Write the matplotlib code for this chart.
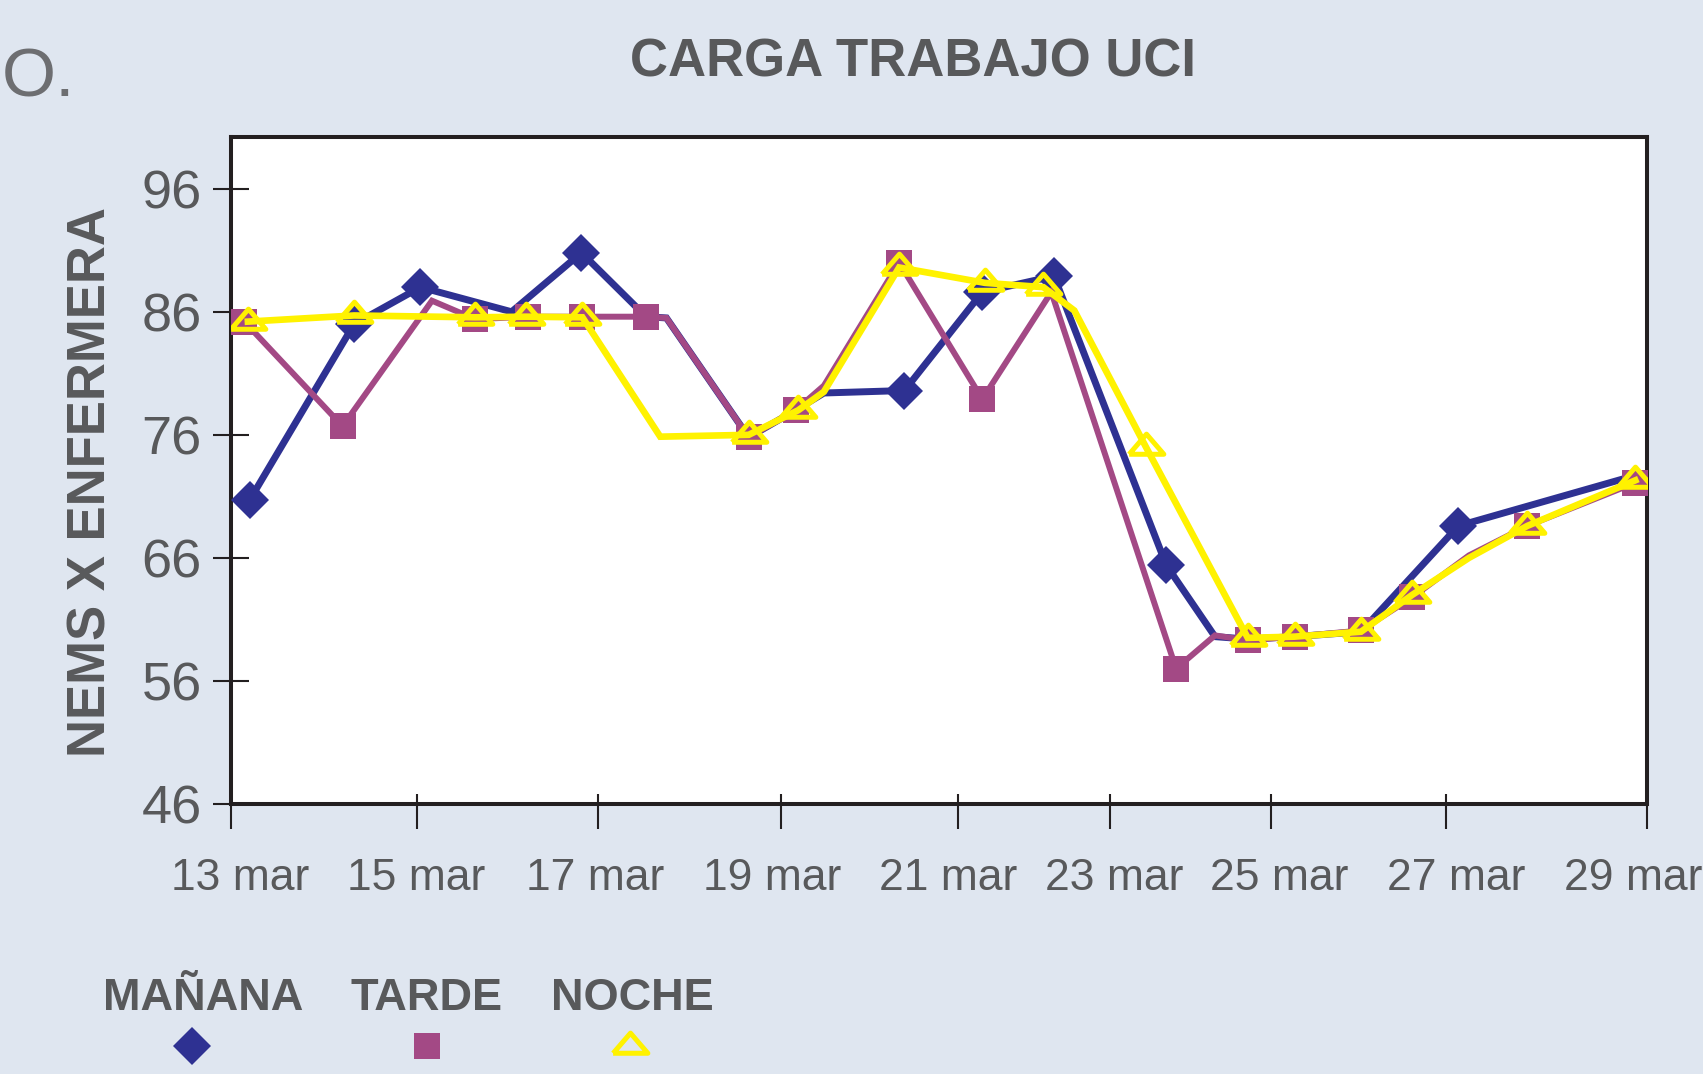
import matplotlib
matplotlib.use('Agg')
import matplotlib.pyplot as plt
from matplotlib.lines import Line2D

# ---------------- data ----------------
tick_pos = [13, 15.10, 17.15, 19.22, 21.22, 22.93, 24.75, 26.73, 29]
label_pos = [13.10, 15.09, 17.11, 19.12, 21.10, 22.98, 24.85, 26.85, 28.85]
tick_labels = ['13 mar', '15 mar', '17 mar', '19 mar', '21 mar',
               '23 mar', '25 mar', '27 mar', '29 mar']
y_ticks = [46, 56, 66, 76, 86, 96]

manana_x = [13.21, 14.39, 15.14, 16.17, 16.96, 17.69, 17.92, 18.85, 19.38, 19.70,
            20.61, 21.49, 22.30, 23.57, 24.12, 24.49, 25.02, 25.77, 26.87, 28.87]
manana_y = [70.7, 85.0, 88.0, 86.0, 90.8, 85.6, 85.5, 75.8, 78.0, 79.4,
            79.6, 87.6, 88.9, 65.4, 59.6, 59.4, 59.6, 60.0, 68.6, 72.7]
manana_mk = [1, 1, 1, 0, 1, 0, 0, 0, 0, 0, 1, 1, 1, 1, 0, 0, 0, 0, 1, 0]

tarde_x = [13.15, 14.26, 15.27, 15.76, 16.35, 16.97, 17.69, 17.92, 18.85, 19.38,
           19.70, 20.55, 21.49, 22.27, 23.68, 24.12, 24.49, 25.02, 25.77, 26.35,
           26.99, 27.65, 28.87]
tarde_y = [85.2, 76.7, 86.9, 85.4, 85.6, 85.6, 85.6, 85.5, 75.8, 78.0,
           80.0, 90.0, 78.9, 87.6, 57.0, 59.7, 59.3, 59.6, 60.1, 62.8,
           66.2, 68.6, 72.1]
tarde_mk = [1, 1, 0, 1, 1, 1, 1, 0, 1, 1, 0, 1, 1, 0, 1, 0, 1, 1, 1, 1, 0, 1, 1]

noche_x = [13.19, 14.39, 15.76, 16.33, 16.97, 17.85, 18.85, 19.41, 19.70, 20.55,
           21.52, 22.18, 22.53, 23.34, 24.49, 25.02, 25.77, 26.35, 26.99, 27.65, 28.87]
noche_y = [85.2, 85.7, 85.55, 85.6, 85.55, 75.85, 76.0, 78.0, 79.5, 89.6,
           88.35, 88.0, 86.1, 75.0, 59.5, 59.6, 60.0, 63.0, 66.0, 68.6, 72.3]
noche_mk = [1, 1, 1, 1, 1, 0, 1, 1, 0, 1, 1, 1, 0, 1, 1, 1, 1, 1, 0, 1, 1]

series_labels = ['MAÑANA', 'TARDE', 'NOCHE']

# ---------------- style ----------------
BG = '#dfe6f0'
BLUE = '#2e3192'
MAG = '#a34985'
YEL = '#fff200'
TXT = '#58595b'
SPINE = '#231f20'
FONT = ['Liberation Sans', 'DejaVu Sans']
plt.rcParams['font.family'] = FONT

# flattened triangle, centred on its centroid
tri = [(-1, -0.39), (1, -0.39), (0, 0.77), (-1, -0.39)]

fig = plt.figure(figsize=(17.03, 10.74), dpi=100, facecolor=BG)
ax = fig.add_axes([0.1357, 0.2514, 0.8313, 0.6210])
ax.set_facecolor('white')

ax.plot(manana_x, manana_y, color=BLUE, lw=5.0, marker='D', ms=19,
        mec=BLUE, mew=0, markevery=[bool(m) for m in manana_mk], zorder=3,
        solid_joinstyle='miter')
ax.plot(tarde_x, tarde_y, color=MAG, lw=4.3, marker='s', ms=19,
        mec=MAG, mew=0, markevery=[bool(m) for m in tarde_mk], zorder=4,
        solid_joinstyle='miter')
ax.plot(noche_x, noche_y, color=YEL, lw=4.8, marker=tri, ms=25,
        mfc='none', mec=YEL, mew=3.6, markevery=[bool(m) for m in noche_mk],
        zorder=5, solid_joinstyle='miter')

ax.set_xlim(13, 29)
ax.set_ylim(46, 100.2)
ax.set_yticks(y_ticks)
ax.set_yticklabels([str(v) for v in y_ticks])

# inward tick marks on major ticks, labels on minor ticks (no mark)
ax.set_xticks(tick_pos)
ax.set_xticklabels([''] * len(tick_pos))
ax.set_xticks(label_pos, minor=True)
ax.set_xticklabels(tick_labels, minor=True)
ax.xaxis.remove_overlapping_locs = False

ax.tick_params(axis='y', direction='inout', length=26, width=1.5, color=SPINE,
               labelsize=39, labelcolor=TXT, pad=8)
ax.tick_params(axis='x', which='major', direction='in', length=7, width=1.5,
               color=SPINE)
ax.tick_params(axis='x', which='minor', length=0, labelsize=32,
               labelcolor=TXT, pad=39)

# outward part of the x tick marks
sec = ax.secondary_xaxis('bottom')
sec.set_xticks(tick_pos)
sec.set_xticklabels([''] * len(tick_pos))
sec.tick_params(axis='x', direction='out', length=18, width=1.5, color=SPINE)
sec.spines['bottom'].set_visible(False)

for s in ax.spines.values():
    s.set_linewidth(2.9)
    s.set_color(SPINE)

# texts
fig.text(0.536, 0.929, 'CARGA TRABAJO UCI', ha='center', va='baseline',
         fontsize=38, fontweight='bold', color=TXT)
fig.text(0.0535, 0.551, 'NEMS X ENFERMERA', ha='center', va='center',
         rotation=90, fontsize=38, fontweight='bold', color=TXT)
fig.text(0.001, 0.9097, 'O.', ha='left', va='baseline', fontsize=50,
         color='#6d6e71')

# legend (label above, marker below)
leg_x = [0.1195, 0.2505, 0.3715]
leg_mx = [0.113, 0.251, 0.370]
leg_styles = [dict(marker='D', color=BLUE, ms=19, mew=0),
              dict(marker='s', color=MAG, ms=19, mew=0),
              dict(marker=tri, color=YEL, ms=25, mfc='none', mec=YEL, mew=3.6)]
for lab, lx, mx, st in zip(series_labels, leg_x, leg_mx, leg_styles):
    fig.text(lx, 0.0596, lab, ha='center', va='baseline', fontsize=32.5,
             fontweight='bold', color=TXT)
    fig.add_artist(Line2D([mx], [0.026], transform=fig.transFigure,
                          linestyle='none', **st))

fig.savefig('out.png', dpi=100, facecolor=BG)
